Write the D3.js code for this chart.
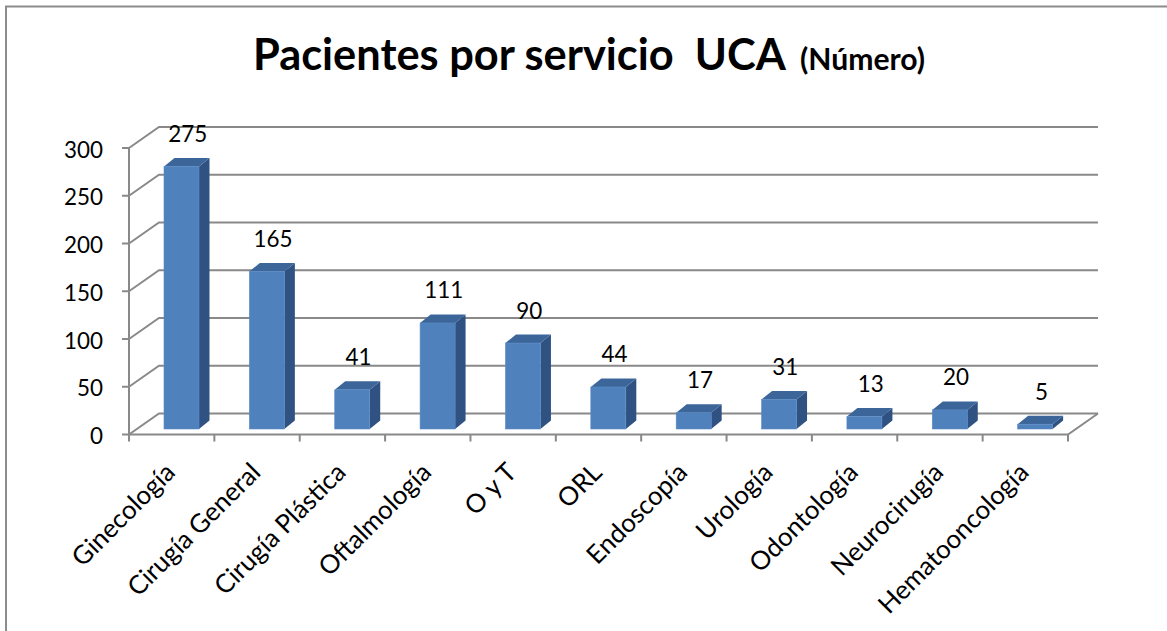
<!DOCTYPE html>
<html>
<head>
<meta charset="utf-8">
<script src="https://cdn.jsdelivr.net/npm/d3@7"></script>
<style>
  html, body { margin: 0; padding: 0; background: #fff; }
  svg { display: block; }
  text { font-family: Lato, "Open Sans", sans-serif; fill: #000; }
</style>
</head>
<body>
<script>
// ---- data ----
const categories = ["Ginecología", "Cirugía General", "Cirugía Plástica", "Oftalmología", "O y T", "ORL", "Endoscopía", "Urología", "Odontología", "Neurocirugía", "Hematooncología"];
const values = [275, 165, 41, 111, 90, 44, 17, 31, 13, 20, 5];
const yTicks = [0, 50, 100, 150, 200, 250, 300];
const titleMain = "Pacientes por servicio  UCA";
const titleSub = "(Número)";

const W = 1167, H = 631;
const svg = d3.select("body").append("svg").attr("width", W).attr("height", H);

// fit helper: font size so text width matches target
function fitSize(str, target, weight) {
  const t = svg.append("text").attr("font-size", 100).attr("font-weight", weight || 400)
    .style("white-space", "pre").text(str);
  const len = t.node().getComputedTextLength();
  t.remove();
  return 100 * target / len;
}

// ---- geometry ----
const x0 = 129, x1 = 1068;
const depthX = 30, depthY = -21;
const x = d3.scaleBand().domain(categories).range([x0, x1]).padding(0);
const yF = d3.scaleLinear().domain([0, 300]).range([434.5, 148]);
const bw = x.bandwidth();
const barOffY = -5.5;                 // bar plane relative to front
const barW = bw * 0.41, barL = bw * 0.41;
const bdx = 10.5, bdy = -8.5;         // bar depth

const grid = "#898989";

// border
svg.append("path").attr("d", `M6,${H} L6,6.5 L${W},6.5`).attr("fill", "none")
  .attr("stroke", "#8c8c8c").attr("stroke-width", 2);

// title
const tSize = fitSize(titleMain, 533, 700);
const sSize = fitSize(titleSub, 125, 700);
svg.append("text").attr("x", 253).attr("y", 70).attr("font-size", tSize).attr("font-weight", 700)
  .style("white-space", "pre").text(titleMain);
svg.append("text").attr("x", 800).attr("y", 70).attr("font-size", sSize).attr("font-weight", 700)
  .text(titleSub);

// gridlines: left wall diagonals + back wall horizontals
const gG = svg.append("g").attr("stroke", grid).attr("stroke-width", 2).attr("fill", "none");
yTicks.forEach(t => {
  const yf = yF(t), yb = yF(t) + depthY;
  gG.append("path").attr("d", `M${x0},${yf} L${x0 + depthX},${yb} L${x1 + depthX},${yb}`);
});
// floor front edge and right diagonal
gG.append("path").attr("d", `M${x0},${yF(0)} L${x1},${yF(0)} L${x1 + depthX},${yF(0) + depthY}`);
// front vertical axis
gG.append("line").attr("x1", x0).attr("x2", x0).attr("y1", yF(300)).attr("y2", yF(0));
// y ticks
yTicks.forEach(t => {
  gG.append("line").attr("x1", x0 - 7).attr("x2", x0).attr("y1", yF(t)).attr("y2", yF(t));
});
// x ticks at band boundaries
d3.range(categories.length + 1).forEach(i => {
  const xx = x0 + i * bw;
  gG.append("line").attr("x1", xx).attr("x2", xx).attr("y1", yF(0)).attr("y2", yF(0) + 7);
});

// y tick labels
const numSize = fitSize("300", 39, 400);
svg.append("g").selectAll("text").data(yTicks).join("text")
  .attr("x", 103).attr("y", d => yF(d) + 9.5)
  .attr("text-anchor", "end").attr("font-size", numSize).text(d => d);

// bars
const yBar = v => yF(v) + barOffY;
const gB = svg.append("g");
categories.forEach((c, i) => {
  const v = values[i];
  const xl = x(c) + barL, xr = xl + barW;
  const yt = yBar(v), yb = yBar(0);
  // side
  gB.append("path").attr("d", `M${xr},${yt} L${xr + bdx},${yt + bdy} L${xr + bdx},${yb + bdy} L${xr},${yb} Z`)
    .attr("fill", "#2F5283");
  // top
  gB.append("path").attr("d", `M${xl},${yt} L${xl + bdx},${yt + bdy} L${xr + bdx},${yt + bdy} L${xr},${yt} Z`)
    .attr("fill", "#3C6699");
  // front
  gB.append("rect").attr("x", xl).attr("y", yt).attr("width", barW).attr("height", yb - yt)
    .attr("fill", "#4F81BD").attr("stroke", "#5A8BC6").attr("stroke-width", 0.6);
  // value label
  svg.append("text").attr("x", xl + (barW + bdx) / 2 + 1).attr("y", yt + bdy - 16)
    .attr("text-anchor", "middle").attr("font-size", numSize).text(v);
});

// category labels
const catSize = fitSize("Hematooncología", 200, 400);
svg.append("g").selectAll("text").data(categories).join("text")
  .attr("transform", d => `translate(${x(d) + bw / 2 + 5},474) rotate(-45)`)
  .attr("text-anchor", "end").attr("font-size", catSize).text(d => d);
</script>
</body>
</html>
